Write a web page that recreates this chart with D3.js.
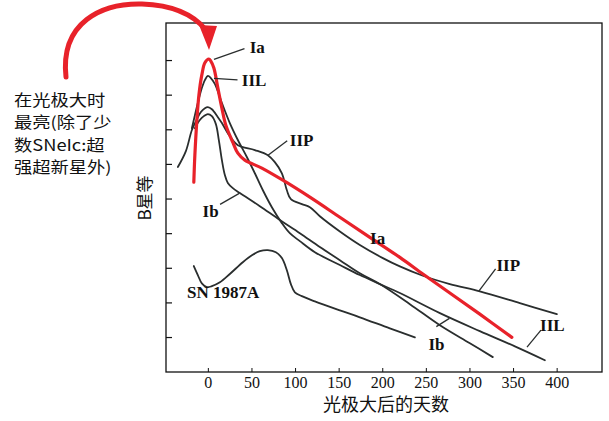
<!DOCTYPE html>
<html>
<head>
<meta charset="utf-8">
<script src="https://cdn.jsdelivr.net/npm/d3@7"></script>
<style>
  body { margin: 0; background: #fff; }
  svg { display: block; }
</style>
</head>
<body>
<svg id="chart" width="609" height="421"></svg>
<script>
// Schematic supernova light curves: B magnitude vs. days after maximum light.
// Each series is [days, B magnitude].
const xTicks = [0, 50, 100, 150, 200, 250, 300, 350, 400];
const yTicks = [-20, -19, -18, -17, -16, -15, -14, -13, -12];

const typeIa = [
  [-16.1, -16.47], [-14.9, -17.25], [-12.6, -18.26], [-10.3, -18.98], [-6.9, -19.57],
  [-3.4, -19.92], [1.1, -20.03], [3.4, -19.97], [6.9, -19.77], [11.5, -19.19],
  [16.1, -18.61], [20.6, -18.12], [28.7, -17.62], [34.4, -17.31], [42.4, -17.11],
  [61.9, -16.88], [86.0, -16.53], [117.0, -16.04], [151.4, -15.46], [185.8, -14.88],
  [220.2, -14.30], [246.6, -13.82], [277.5, -13.27], [311.9, -12.66], [348.6, -11.99]
];

const typeIIL = [
  [-18.3, -18.03], [-11.5, -18.76], [-6.9, -19.19], [-3.4, -19.42], [0, -19.54],
  [3.4, -19.48], [8.0, -19.31], [16.1, -18.76], [25.2, -18.18], [34.4, -17.69],
  [44.7, -17.20], [53.9, -16.73], [63.1, -16.24], [73.4, -15.75], [84.9, -15.29],
  [94.0, -15.00], [105.5, -14.77], [122.7, -14.45], [151.4, -14.08], [174.3, -13.79],
  [197.2, -13.53], [220.2, -13.27], [266.1, -12.69], [311.9, -12.17], [352.1, -11.73],
  [386.5, -11.33]
];

const typeIIP = [
  [-34.4, -16.91], [-25.2, -17.37], [-18.3, -17.98], [-12.6, -18.29], [-8.0, -18.50],
  [-3.4, -18.61], [0, -18.64], [4.6, -18.58], [11.5, -18.35], [16.1, -18.18],
  [25.2, -17.80], [34.4, -17.54], [53.9, -17.40], [68.8, -17.25], [76.8, -17.05],
  [84.9, -16.73], [90.6, -16.24], [95.2, -15.98], [107.8, -15.84], [117.0, -15.75],
  [128.4, -15.49], [151.4, -15.05], [174.3, -14.66], [200.7, -14.28], [220.2, -14.04],
  [246.6, -13.77], [277.5, -13.53], [311.9, -13.32], [357.8, -12.98], [400.2, -12.66]
];

const typeIb = [
  [-14.9, -18.03], [-9.2, -18.27], [-4.6, -18.38], [0, -18.44], [4.6, -18.38],
  [9.2, -18.15], [12.6, -17.69], [16.1, -17.11], [19.5, -16.68], [22.9, -16.45],
  [28.7, -16.30], [36.7, -16.16], [59.6, -15.78], [82.6, -15.38], [105.5, -15.00],
  [128.4, -14.60], [151.4, -14.22], [174.3, -13.84], [197.2, -13.53], [231.7, -12.95],
  [266.1, -12.34], [300.5, -11.82], [326.8, -11.42]
];

const sn1987A = [
  [-16.1, -14.05], [-11.5, -13.79], [-6.9, -13.55], [-1.1, -13.44], [4.6, -13.47],
  [13.8, -13.58], [25.2, -13.82], [40.1, -14.16], [50.5, -14.36], [59.6, -14.48],
  [68.8, -14.51], [78.0, -14.45], [84.9, -14.28], [90.6, -13.93], [95.2, -13.53],
  [99.8, -13.29], [107.8, -13.18], [122.7, -13.03], [151.4, -12.77], [174.3, -12.57],
  [208.7, -12.25], [237.4, -11.99]
];

const xLabel = "光极大后的天数";
const yLabel = "B星等";
const noteLines = ["在光极大时", "最亮(除了少", "数SNeIc:超", "强超新星外)"];

const svg = d3.select("#chart");
const frame = { left: 166, top: 23, right: 602, bottom: 372 };

const x = d3.scaleLinear().domain([-48, 452]).range([frame.left, frame.right]);
const y = d3.scaleLinear().domain([-21.07, -10.99]).range([frame.top, frame.bottom]);

const serif = "'Liberation Serif', 'DejaVu Serif', serif";
const cjk = "'Noto Sans CJK SC', 'Noto Sans', sans-serif";
const ink = "#2a2e2e";
const red = "#e8222a";

// Axes (ticks point into the plot)
const xAxis = svg.append("g")
  .attr("transform", `translate(0,${frame.bottom})`)
  .call(d3.axisBottom(x).tickValues(xTicks).tickSize(-4).tickPadding(5));
xAxis.select(".domain").remove();
xAxis.selectAll("line").attr("stroke", "#111").attr("stroke-width", 1);
xAxis.selectAll("text").attr("font-family", serif).attr("font-size", 16).attr("fill", "#111");

const yAxis = svg.append("g")
  .attr("transform", `translate(${frame.left},0)`)
  .call(d3.axisLeft(y).tickValues(yTicks).tickSize(-6).tickFormat(""));
yAxis.select(".domain").remove();
yAxis.selectAll("line").attr("stroke", "#111").attr("stroke-width", 1.2);

// Plot frame
svg.append("rect")
  .attr("x", frame.left).attr("y", frame.top)
  .attr("width", frame.right - frame.left).attr("height", frame.bottom - frame.top)
  .attr("fill", "none").attr("stroke", "#111").attr("stroke-width", 1.3);

// Axis titles
svg.append("text")
  .attr("x", 386).attr("y", 411)
  .attr("text-anchor", "middle")
  .attr("font-family", cjk).attr("font-size", 18).attr("fill", "#111")
  .text(xLabel);

svg.append("text")
  .attr("transform", "translate(151,198) rotate(-90)")
  .attr("text-anchor", "middle")
  .attr("font-family", cjk).attr("font-size", 17).attr("fill", "#111")
  .text(yLabel);

// Light curves
const line = d3.line()
  .x(d => x(d[0]))
  .y(d => y(d[1]))
  .curve(d3.curveCatmullRom.alpha(0.5));

const blackSeries = [typeIIP, typeIb, typeIIL, sn1987A];
svg.append("g").selectAll("path")
  .data(blackSeries)
  .join("path")
  .attr("d", line)
  .attr("fill", "none")
  .attr("stroke", ink)
  .attr("stroke-width", 1.8)
  .attr("stroke-linejoin", "round")
  .attr("stroke-linecap", "round");

svg.append("path")
  .datum(typeIa)
  .attr("d", line)
  .attr("fill", "none")
  .attr("stroke", red)
  .attr("stroke-width", 3.2)
  .attr("stroke-linejoin", "round")
  .attr("stroke-linecap", "round");

// Curve labels with leader lines (positions in data units)
const labels = [
  { t: "Ia",  at: [48, -20.37],  from: [7, -20.02],  to: [42, -20.33] },
  { t: "IIL", at: [39, -19.43],  from: [7, -19.47],  to: [34, -19.43] },
  { t: "IIP", at: [94, -17.70],  from: [69, -17.25], to: [91, -17.67] },
  { t: "Ib",  at: [-6, -15.65],  from: [14, -15.83], to: [36, -16.15] },
  { t: "Ia",  at: [186, -14.87] },
  { t: "IIP", at: [331, -14.07], from: [311, -13.33], to: [330, -13.97] },
  { t: "IIL", at: [381, -12.36], from: [366, -11.71], to: [382, -12.20] },
  { t: "Ib",  at: [253, -11.80], from: [262, -12.30], to: [277, -12.54] },
  { t: "SN 1987A", at: [-24, -13.3] }
];

const lab = svg.append("g");
labels.filter(d => d.from).forEach(d => {
  lab.append("line")
    .attr("x1", x(d.from[0])).attr("y1", y(d.from[1]))
    .attr("x2", x(d.to[0])).attr("y2", y(d.to[1]))
    .attr("stroke", ink).attr("stroke-width", 1.3);
});
lab.selectAll("text")
  .data(labels)
  .join("text")
  .attr("x", d => x(d.at[0]))
  .attr("y", d => y(d.at[1]))
  .attr("dy", "0.35em")
  .attr("font-family", serif)
  .attr("font-size", 17)
  .attr("font-weight", "bold")
  .attr("fill", "#111")
  .text(d => d.t);

// Side note (slightly widened glyphs) and the red arrow pointing at maximum light
const note = svg.append("g").attr("transform", "translate(14,0) scale(1.18,1)");
note.selectAll("text")
  .data(noteLines)
  .join("text")
  .attr("x", 0)
  .attr("y", (d, i) => 106 + i * 22.5)
  .attr("font-family", cjk)
  .attr("font-size", 15.5)
  .attr("fill", "#111")
  .text(d => d);

const arrow = svg.append("g");
arrow.append("path")
  .attr("d", "M66,77 C60,22 102,3 142,4 C172,5 193,14 206,30")
  .attr("fill", "none")
  .attr("stroke", red)
  .attr("stroke-width", 5)
  .attr("stroke-linecap", "round");
arrow.append("path")
  .attr("d", "M199,25 L217,26 L209,50 Z")
  .attr("fill", red);
</script>
</body>
</html>
